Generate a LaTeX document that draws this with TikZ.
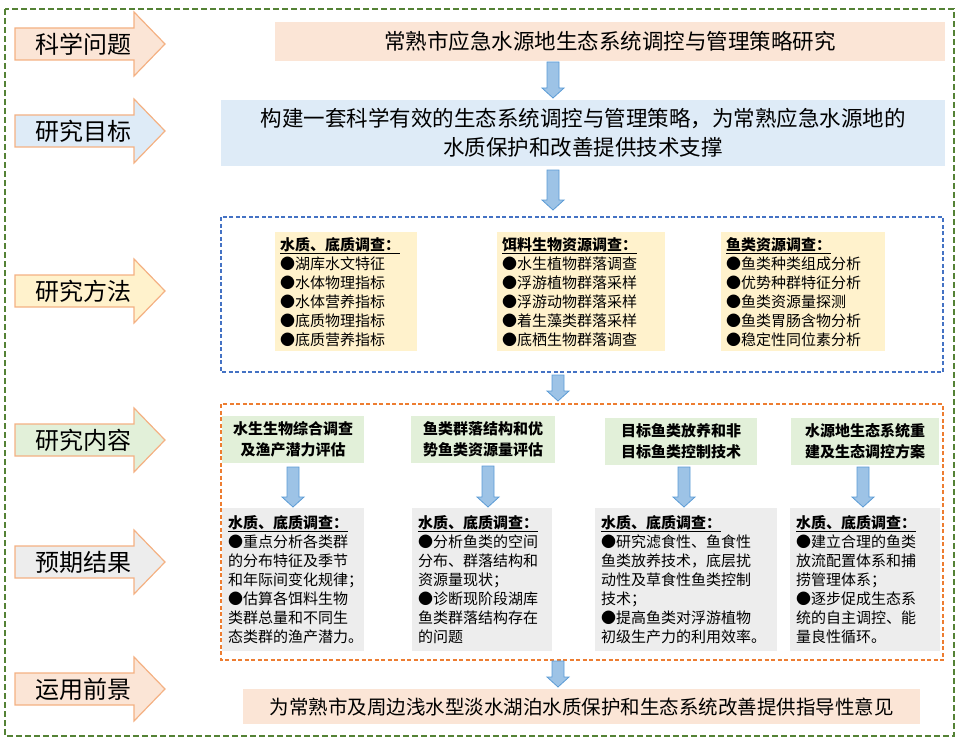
\documentclass[tikz,border=0pt]{standalone}
\usepackage{fontspec}
\setmainfont{Noto Sans CJK SC}
\begin{document}
\begin{tikzpicture}[x=1pt,y=-1pt,
  lab/.style={font=\fontsize{24}{26}\selectfont},
  bigbox/.style={anchor=north west,inner sep=0pt,align=center},
  ybox/.style={fill=yfill,anchor=north west,inner sep=5pt,align=left,font=\fontsize{15}{19}\selectfont,text width=#1},
  gbox/.style={fill=grayfill,anchor=north west,inner sep=6pt,align=left,font=\fontsize{15}{19}\selectfont,text width=#1},
  hbox/.style={fill=greenfill,anchor=north west,inner sep=0pt,align=center,font=\bfseries\fontsize{15}{21}\selectfont},
  darr/.style={fill=arrfill,draw=arrline,line width=0.8pt},
  dbox/.style={dashed,line width=1.3pt,dash pattern=on 4pt off 2.5pt}]
\definecolor{peach}{HTML}{FBE5D6}
\definecolor{bluefill}{HTML}{DEEBF7}
\definecolor{yfill}{HTML}{FFF2CC}
\definecolor{greenfill}{HTML}{E2F0D9}
\definecolor{grayfill}{HTML}{EDEDED}
\definecolor{arrfill}{HTML}{9DC3E6}
\definecolor{arrline}{HTML}{5B9BD5}
\definecolor{orline}{HTML}{F4B183}
\definecolor{gline}{HTML}{548235}
\definecolor{bline}{HTML}{4472C4}
\definecolor{oline}{HTML}{ED7D31}
\useasboundingbox (0,0) rectangle (961,741);
\draw[gline,dashed,line width=1.8pt,dash pattern=on 6pt off 3pt] (5,9) rectangle (954,736);
% left arrows
\newcommand\larrow[4]{%
 \filldraw[fill=#2,draw=orline,line width=1.2pt] (15,#1-16)--(134,#1-16)--(134,#1-32)--(165,#1)--(134,#1+32)--(134,#1+16)--(15,#1+16)--cycle;
 \node[lab] (#4) at (83,#1) {#3};}
\larrow{44}{peach}{科学问题}{l1}
\larrow{131}{bluefill}{研究目标}{l2}
\larrow{291}{yfill}{研究方法}{l3}
\larrow{440}{greenfill}{研究内容}{l4}
\larrow{562}{grayfill}{预期结果}{l5}
\larrow{689}{peach}{运用前景}{l6}
% down arrows
\newcommand\darrow[3]{%
 \filldraw[darr] (#1-6,#2)--(#1+6,#2)--(#1+6,#3-10)--(#1+11,#3-10)--(#1,#3)--(#1-11,#3-10)--(#1-6,#3-10)--cycle;}
% main boxes
\node[bigbox,fill=peach,minimum width=670,minimum height=39,font=\fontsize{21.5}{24}\selectfont] (b1) at (275,22) {常熟市应急水源地生态系统调控与管理策略研究};
\node[bigbox,fill=bluefill,minimum width=724,minimum height=66,font=\fontsize{21.5}{29}\selectfont] (b2) at (221,100) {构建一套科学有效的生态系统调控与管理策略，为常熟应急水源地的\\水质保护和改善提供技术支撑};
\darrow{553}{62}{98}
\darrow{553}{170}{210}
\draw[bline,dbox] (221,217) rectangle (943,372);
\node[ybox=132] (y1) at (275,232) {\underline{\textbf{水质、底质调查：}}\\●湖库水文特征\\●水体物理指标\\●水体营养指标\\●底质物理指标\\●底质营养指标};
\node[ybox=158] (y2) at (497,232) {\underline{\textbf{饵料生物资源调查：}}\\●水生植物群落调查\\●浮游植物群落采样\\●浮游动物群落采样\\●着生藻类群落采样\\●底栖生物群落调查};
\node[ybox=154] (y3) at (721,232) {\underline{\textbf{鱼类资源调查：}}\\●鱼类种类组成分析\\●优势种群特征分析\\●鱼类资源量探测\\●鱼类胃肠含物分析\\●稳定性同位素分析};
\darrow{558}{375}{401}
\draw[oline,dbox] (221,404) rectangle (943,660);
\node[hbox,minimum width=142,minimum height=47] (h1) at (222,416) {水生生物综合调查\\及渔产潜力评估};
\node[hbox,minimum width=144,minimum height=47] (h2) at (411,416) {鱼类群落结构和优\\势鱼类资源量评估};
\node[hbox,minimum width=152,minimum height=47] (h3) at (605,418) {目标鱼类放养和非\\目标鱼类控制技术};
\node[hbox,minimum width=148,minimum height=47] (h4) at (791,418) {水源地生态系统重\\建及生态调控方案};
\darrow{293}{467}{507}
\darrow{488}{466}{507}
\darrow{684}{467}{507}
\darrow{863}{467}{507}
\node[gbox=130,minimum height=143] (g1) at (222,508) {\underline{\textbf{水质、底质调查：}}\\●重点分析各类群\\的分布特征及季节\\和年际间变化规律；\\●估算各饵料生物\\类群总量和不同生\\态类群的渔产潜力。};
\node[gbox=128,minimum height=143] (g2) at (412,508) {\underline{\textbf{水质、底质调查：}}\\●分析鱼类的空间\\分布、群落结构和\\资源量现状；\\●诊断现阶段湖库\\鱼类群落结构存在\\的问题};
\node[gbox=170,minimum height=143] (g3) at (595,508) {\underline{\textbf{水质、底质调查：}}\\●研究滤食性、鱼食性\\鱼类放养技术，底层扰\\动性及草食性鱼类控制\\技术；\\●提高鱼类对浮游植物\\初级生产力的利用效率。};
\node[gbox=138,minimum height=143] (g4) at (790,508) {\underline{\textbf{水质、底质调查：}}\\●建立合理的鱼类\\放流配置体系和捕\\捞管理体系；\\●逐步促成生态系\\统的自主调控、能\\量良性循环。};
\darrow{558}{661}{687}
\node[bigbox,fill=peach,minimum width=677,minimum height=35,font=\fontsize{19.5}{22}\selectfont] (b6) at (243,689) {为常熟市及周边浅水型淡水湖泊水质保护和生态系统改善提供指导性意见};
\end{tikzpicture}
\end{document}
